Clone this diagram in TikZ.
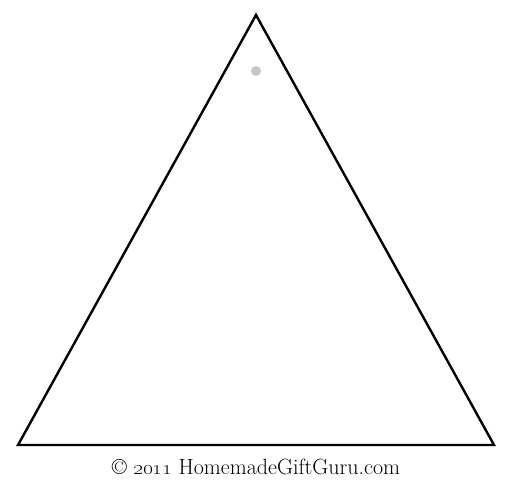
\documentclass[tikz,border=0pt]{standalone}
\usepackage{tikz}
\usetikzlibrary{positioning}
\tikzset{
  edge/.style={line width=2.4pt, line join=miter},
  hole/.style={circle, fill=black!22, inner sep=0pt, minimum size=10pt},
  credit/.style={font=\fontsize{22}{26}\selectfont, inner sep=0pt}
}
\begin{document}
\begin{tikzpicture}[x=1pt, y=-1pt]
			\useasboundingbox (0,0) rectangle (513,487);
			\coordinate (Apex) at (256,15);
			\coordinate (Left) at (18,445);
			\coordinate (Right) at (494,445);
			\draw[edge] (Apex) -- (Left) -- (Right) -- cycle;
			\node[hole] (Hole) at (256,71) {};
			\node[credit] (Credit) at (256,467) {\textcopyright{} \oldstylenums{2011} HomemadeGiftGuru.com};
		\end{tikzpicture}
\end{document}
